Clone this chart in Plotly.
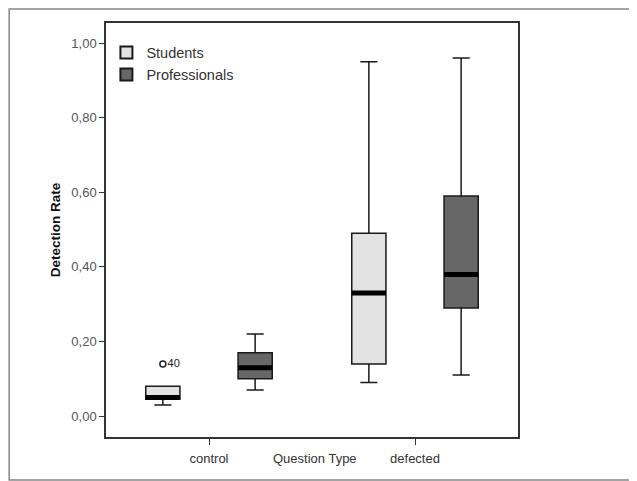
import plotly.graph_objects as go

categories = ["control", "defected"]
groups = ["Students", "Professionals"]
colors = {"Students": "#e3e3e3", "Professionals": "#676767"}

# per group, per category: lower whisker, q1, median, q3, upper whisker
students_low = [0.03, 0.09]
students_q1 = [0.045, 0.14]
students_med = [0.05, 0.33]
students_q3 = [0.08, 0.49]
students_high = [0.08, 0.95]

prof_low = [0.07, 0.11]
prof_q1 = [0.10, 0.29]
prof_med = [0.13, 0.38]
prof_q3 = [0.17, 0.59]
prof_high = [0.22, 0.96]

outlier_cat = ["control"]
outlier_val = [0.14]
outlier_label = ["40"]

yticks = [0.0, 0.2, 0.4, 0.6, 0.8, 1.0]

offset = 0.224
half_w = 0.083
cat_pos = {c: i for i, c in enumerate(categories)}

stats = {
    "Students": (students_low, students_q1, students_med, students_q3, students_high, -offset),
    "Professionals": (prof_low, prof_q1, prof_med, prof_q3, prof_high, offset),
}

fig = go.Figure()
for g in groups:
    lo, q1, med, q3, hi, off = stats[g]
    xs = [cat_pos[c] + off for c in categories]
    fig.add_trace(go.Box(
        x=xs, q1=q1, median=med, q3=q3, lowerfence=lo, upperfence=hi,
        name=g, fillcolor=colors[g],
        line=dict(color="#1a1a1a", width=1.5),
        width=2 * half_w, whiskerwidth=0.5,
        boxpoints=False, showlegend=True, hoverinfo="skip",
    ))
    # thick median bars
    mx, my = [], []
    for i, c in enumerate(categories):
        x0 = cat_pos[c] + off
        mx += [x0 - half_w, x0 + half_w, None]
        my += [med[i], med[i], None]
    fig.add_trace(go.Scatter(x=mx, y=my, mode="lines",
                             line=dict(color="black", width=5),
                             showlegend=False, hoverinfo="skip"))

# outlier
fig.add_trace(go.Scatter(
    x=[cat_pos[c] - offset for c in outlier_cat], y=outlier_val,
    mode="markers+text", text=outlier_label, textposition="middle right",
    textfont=dict(family="Liberation Sans, Arial", size=11, color="#222"),
    marker=dict(symbol="circle-open", size=6, color="#222", line=dict(width=1.5)),
    showlegend=False, hoverinfo="skip"))

fig.update_layout(
    width=629, height=473,
    margin=dict(l=98, r=119, t=15, b=44),
    paper_bgcolor="white", plot_bgcolor="white",
    font=dict(family="Liberation Sans, Arial", size=12, color="#333"),
    separators=",.",
    showlegend=True,
    legend=dict(x=0.001, y=0.967, xanchor="left", yanchor="top",
                bgcolor="rgba(0,0,0,0)", font=dict(size=14.5, color="#333"),
                itemsizing="constant", tracegroupgap=2),
    xaxis=dict(range=[-0.5, 1.5], tickvals=[cat_pos[c] for c in categories],
               ticktext=categories, showgrid=False, zeroline=False,
               showline=True, mirror=True, linecolor="#333", linewidth=1.5,
               ticks="outside", ticklen=6, tickcolor="#333",
               ticklabelstandoff=3,
               tickfont=dict(size=13, color="#333")),
    yaxis=dict(range=[-0.056, 1.054], tickvals=yticks, tickformat=".2f",
               showgrid=False, zeroline=False,
               showline=True, mirror=True, linecolor="#333", linewidth=1.5,
               ticks="outside", ticklen=5, tickcolor="#333",
               tickfont=dict(size=13, color="#555"),
               title=dict(text="<b>Detection Rate</b>", font=dict(size=13.5, color="#111"),
                          standoff=8)),
    shapes=[dict(type="rect", xref="paper", yref="paper",
                 x0=-0.235, x1=1.5, y0=-0.104, y1=1.034,
                 line=dict(color="#858585", width=1.5), layer="below")],
    annotations=[dict(text="Question Type", xref="paper", yref="paper",
                      x=0.507, y=-0.053, xanchor="center", yanchor="middle",
                      showarrow=False, font=dict(size=13, color="#333"))],
)

fig.write_html("out.html")
